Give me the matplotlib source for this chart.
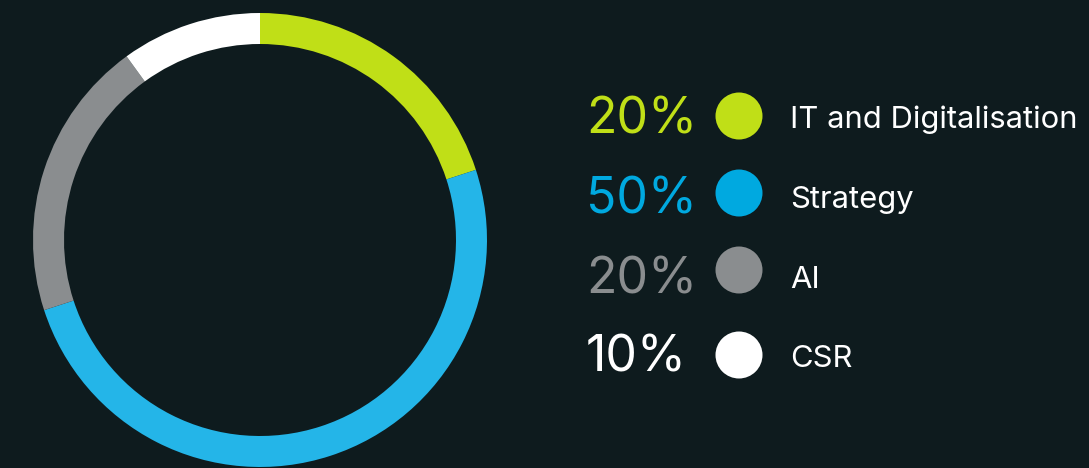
import matplotlib
matplotlib.use('Agg')
import matplotlib.pyplot as plt
from matplotlib.patches import Circle

# budget split
categories = ['IT and Digitalisation', 'Strategy', 'AI', 'CSR']
shares = [20, 50, 20, 10]
ring_colors = ['#c0df17', '#24b5e8', '#8a8d8f', '#ffffff']
dot_colors = ['#c0df17', '#00a9e0', '#8a8d8f', '#ffffff']
bg = '#0e1b1e'

W, H = 1089, 468
fig = plt.figure(figsize=(W / 100, H / 100), dpi=100, facecolor=bg)
ax = fig.add_axes([0, 0, 1, 1])
ax.set_facecolor(bg)
ax.set_xlim(0, W)
ax.set_ylim(0, H)
ax.set_aspect('equal')
ax.axis('off')

# %% donut, clockwise from 12 o'clock
ax.pie(shares, colors=ring_colors, radius=227, center=(260, H - 240),
       startangle=90, counterclock=False,
       wedgeprops=dict(width=31, linewidth=0))
ax.set_xlim(0, W)
ax.set_ylim(0, H)

# %% legend rows (pixel rows from the top)
baselines = [128, 208, 288, 367]
dot_rows = [116, 193, 270, 355]
for base, dy, pct, name, c in zip(baselines, dot_rows, shares, categories, dot_colors):
    ax.text(586, H - base - 5, f'{pct}%', color=c, fontsize=36, family='Inter',
            fontweight='normal', ha='left', va='baseline')
    ax.add_patch(Circle((739, H - dy), 23.5, color=c, lw=0))
    ax.text(790, H - base, name, color='white', fontsize=22.3, family='Inter',
            ha='left', va='baseline')

fig.savefig('out.png', dpi=100, facecolor=bg)
